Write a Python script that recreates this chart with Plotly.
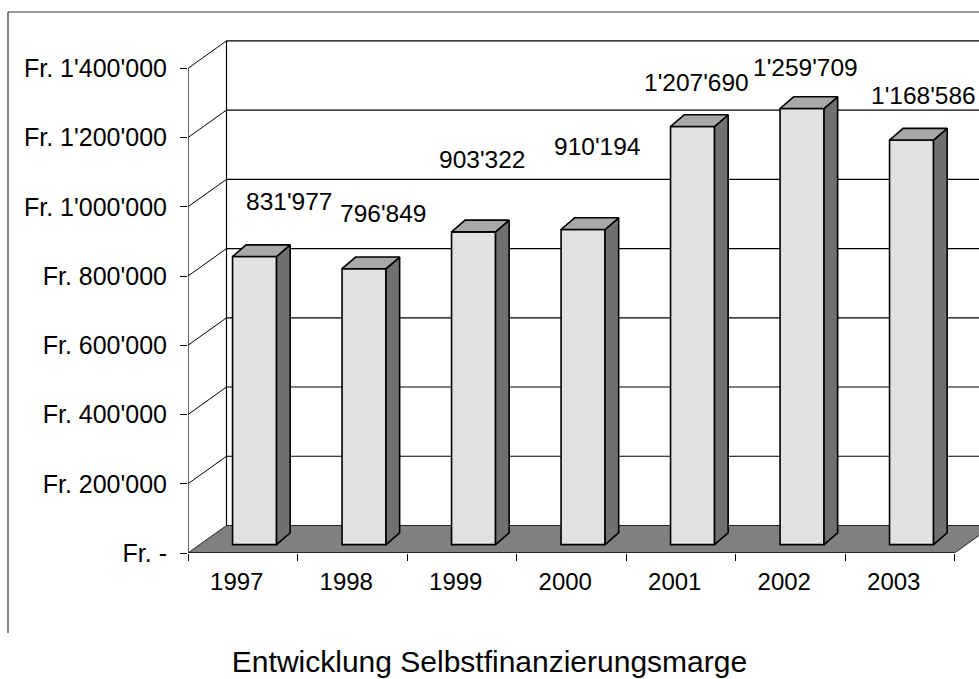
import plotly.graph_objects as go

# ---------------- data ----------------
years = ["1997", "1998", "1999", "2000", "2001", "2002", "2003"]
values = [831977, 796849, 903322, 910194, 1207690, 1259709, 1168586]
value_labels = ["831'977", "796'849", "903'322", "910'194", "1'207'690", "1'259'709", "1'168'586"]
y_tickvals = [0, 200000, 400000, 600000, 800000, 1000000, 1200000, 1400000]
y_ticktext = ["Fr. -", "Fr. 200'000", "Fr. 400'000", "Fr. 600'000", "Fr. 800'000",
              "Fr. 1'000'000", "Fr. 1'200'000", "Fr. 1'400'000"]
title_text = "Entwicklung Selbstfinanzierungsmarge"

# label nudges in pixels (x right, y up) relative to category centre / bar value
label_nudges = [(46, 63), (31, 64), (20, 81), (26, 91), (16, 52), (15, 49), (24, 53)]

# ---------------- geometry / style ----------------
W, H = 979, 679
L, R, T, B = 188, 0, 30, 126
plot_w = W - L - R
plot_h = H - T - B
CAT_PX = 109.5
VAL_PX = 69.24 / 200000.0
x_max = plot_w / CAT_PX
y_max = plot_h / VAL_PX


def ux(px):
    return px / CAT_PX


def uy(px):
    return px / VAL_PX


WALL_DX, WALL_DY = ux(38.5), uy(27.5)
FRONT_DX, FRONT_DY = ux(11.8), uy(8.4)
DEPTH_DX, DEPTH_DY = ux(13.6), uy(11.7)
BAR_W = ux(44)
n = len(years)

FONT = "Liberation Sans, Arial, sans-serif"
C_FRONT, C_TOP, C_SIDE, C_FLOOR = "#e1e1e1", "#a8a8a8", "#707070", "#808080"

shapes = []
# back wall grid lines + left wall diagonals
for v in y_tickvals[1:]:
    shapes.append(dict(type="line", xref="x", yref="y", x0=WALL_DX, y0=v + WALL_DY,
                       x1=n + WALL_DX, y1=v + WALL_DY, line=dict(color="black", width=1.2),
                       layer="below"))
    shapes.append(dict(type="line", xref="x", yref="y", x0=0, y0=v,
                       x1=WALL_DX, y1=v + WALL_DY, line=dict(color="black", width=1),
                       layer="below"))
# back wall left vertical edge
shapes.append(dict(type="line", xref="x", yref="y", x0=WALL_DX, y0=WALL_DY,
                   x1=WALL_DX, y1=y_tickvals[-1] + WALL_DY, line=dict(color="black", width=1.2),
                   layer="below"))
# floor
shapes.append(dict(type="path", xref="x", yref="y",
                   path=f"M 0,0 L {n},0 L {n + WALL_DX},{WALL_DY} L {WALL_DX},{WALL_DY} Z",
                   fillcolor=C_FLOOR, line=dict(color="#222222", width=1), layer="below"))
# front value axis line
shapes.append(dict(type="line", xref="x", yref="y", x0=0, y0=0, x1=0, y1=y_tickvals[-1],
                   line=dict(color="black", width=1.2), layer="below"))
# front category axis line (floor front edge)
shapes.append(dict(type="line", xref="x", yref="y", x0=0, y0=0, x1=n, y1=0,
                   line=dict(color="black", width=1.2), layer="below"))


def paper_x(px):
    return (px - L) / plot_w


def paper_y(py):
    return (H - B - py) / plot_h


# chart frame (left and top borders)
shapes.append(dict(type="line", xref="paper", yref="paper", x0=paper_x(8), y0=paper_y(12),
                   x1=paper_x(8), y1=paper_y(633), line=dict(color="#333333", width=1.2)))
shapes.append(dict(type="line", xref="paper", yref="paper", x0=paper_x(8), y0=paper_y(12),
                   x1=paper_x(W + 5), y1=paper_y(12), line=dict(color="#333333", width=1.2)))

fig = go.Figure()

centers = [i + 0.5 for i in range(n)]
bar_x = [c + FRONT_DX for c in centers]

fig.add_trace(go.Bar(x=bar_x, y=values, base=[FRONT_DY] * n, width=BAR_W,
                     marker=dict(color=C_FRONT, line=dict(color="black", width=1.6)),
                     hoverinfo="skip", showlegend=False))

top_x, top_y, side_x, side_y = [], [], [], []
for bx, v in zip(bar_x, values):
    x0, x1 = bx - BAR_W / 2, bx + BAR_W / 2
    top = v + FRONT_DY
    top_x += [x0, x1, x1 + DEPTH_DX, x0 + DEPTH_DX, x0, None]
    top_y += [top, top, top + DEPTH_DY, top + DEPTH_DY, top, None]
    side_x += [x1, x1, x1 + DEPTH_DX, x1 + DEPTH_DX, x1, None]
    side_y += [FRONT_DY, top, top + DEPTH_DY, FRONT_DY + DEPTH_DY, FRONT_DY, None]

fig.add_trace(go.Scatter(x=side_x, y=side_y, mode="lines", fill="toself", fillcolor=C_SIDE,
                         line=dict(color="black", width=1.6), hoverinfo="skip", showlegend=False))
fig.add_trace(go.Scatter(x=top_x, y=top_y, mode="lines", fill="toself", fillcolor=C_TOP,
                         line=dict(color="black", width=1.6), hoverinfo="skip", showlegend=False))

annotations = []
for c, v, lab, (dx, dy) in zip(centers, values, value_labels, label_nudges):
    annotations.append(dict(x=c, y=v, xref="x", yref="y", text=lab, showarrow=False,
                            xanchor="center", yanchor="middle", xshift=dx, yshift=dy,
                            font=dict(family=FONT, size=24.5, color="black")))

fig.update_layout(
    width=W, height=H,
    margin=dict(l=L, r=R, t=T, b=B, pad=0),
    paper_bgcolor="white", plot_bgcolor="white",
    shapes=shapes, annotations=annotations,
    showlegend=False, hovermode=False,
    title=dict(text=title_text, x=0.5, xref="container", xanchor="center",
               y=1 - 661 / H, yref="container", yanchor="middle",
               font=dict(family=FONT, size=30, color="black")),
    font=dict(family=FONT, size=24, color="black"),
)
fig.update_xaxes(range=[0, x_max], showgrid=False, zeroline=False, showline=False,
                 tickmode="array", tickvals=[c - ux(6) for c in centers], ticktext=years,
                 ticks="", ticklabelstandoff=12,
                 minor=dict(tickmode="array", tickvals=list(range(n + 1)), ticks="outside",
                            ticklen=7, tickcolor="black", tickwidth=1.2, showgrid=False),
                 tickfont=dict(family=FONT, size=24, color="black"), fixedrange=True)
fig.update_yaxes(range=[0, y_max], showgrid=False, zeroline=False, showline=False,
                 tickmode="array", tickvals=y_tickvals, ticktext=y_ticktext,
                 ticks="outside", ticklen=7, tickcolor="black", tickwidth=1.2,
                 ticklabelstandoff=8,
                 tickfont=dict(family=FONT, size=25, color="black"), fixedrange=True)

fig.write_html("out.html", config={"displayModeBar": False},
               post_script="document.body.style.margin='0';document.body.style.overflow='hidden';")
